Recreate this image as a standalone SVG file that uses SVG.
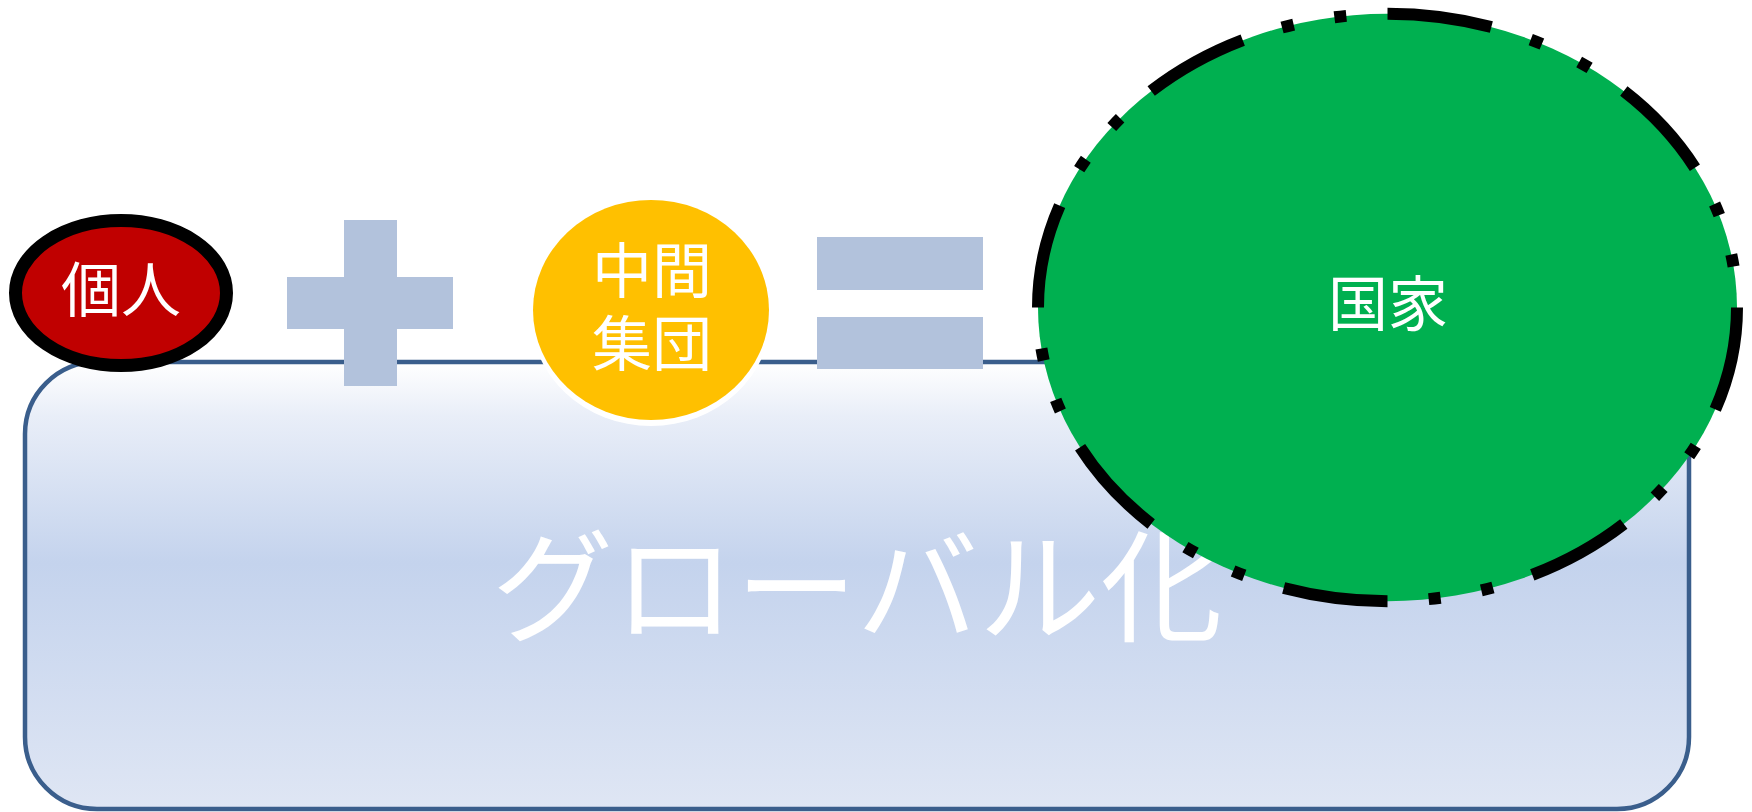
<svg xmlns="http://www.w3.org/2000/svg" width="1752" height="812" viewBox="0 0 1752 812">
  <defs>
    <linearGradient id="bgGrad" x1="0" y1="0" x2="0" y2="1">
      <stop offset="0" stop-color="#FFFFFF"/>
      <stop offset="0.12" stop-color="#E9EEF8"/>
      <stop offset="0.45" stop-color="#C4D3ED"/>
      <stop offset="1" stop-color="#DFE6F4"/>
    </linearGradient>
    <style>
      .lbl { font-family: "Noto Sans CJK JP", "Noto Sans CJK SC", sans-serif; fill: #FFFFFF; text-anchor: middle; }
      .op { fill: #B2C2DC; }
    </style>
  </defs>

  <g id="globalization">
    <rect x="25" y="362" width="1664" height="447" rx="72" ry="72" fill="url(#bgGrad)" stroke="#3A5E8C" stroke-width="4.5"/>
    <text class="lbl" x="857" y="632" font-size="122">グローバル化</text>
  </g>

  <g id="plus">
    <rect class="op" x="344" y="220" width="53" height="166"/>
    <rect class="op" x="287" y="277" width="166" height="52"/>
  </g>

  <g id="equals">
    <rect class="op" x="817" y="237" width="166" height="53"/>
    <rect class="op" x="817" y="317" width="166" height="52"/>
  </g>

  <g id="individual">
    <ellipse cx="121" cy="293" rx="105.5" ry="72.5" fill="#C00000" stroke="#000000" stroke-width="13"/>
    <text class="lbl" x="121" y="311.5" font-size="60">個人</text>
  </g>

  <g id="intermediate">
    <ellipse cx="651" cy="313" rx="121" ry="113" fill="#FFFFFF"/>
    <ellipse cx="651" cy="310" rx="118" ry="110" fill="#FFC000"/>
    <text class="lbl" font-size="60"><tspan x="652" y="292.5">中間</tspan><tspan x="652" y="365.5">集団</tspan></text>
  </g>

  <g id="nation">
    <ellipse cx="1387.5" cy="307.5" rx="349.5" ry="293.7" fill="#00B050" stroke="#000000" stroke-width="12" pathLength="2024" stroke-dasharray="105 41.33 12 41.33 12 41.34"/>
    <text class="lbl" x="1388" y="325.5" font-size="60">国家</text>
  </g>

  <g id="connectors"></g>
</svg>
